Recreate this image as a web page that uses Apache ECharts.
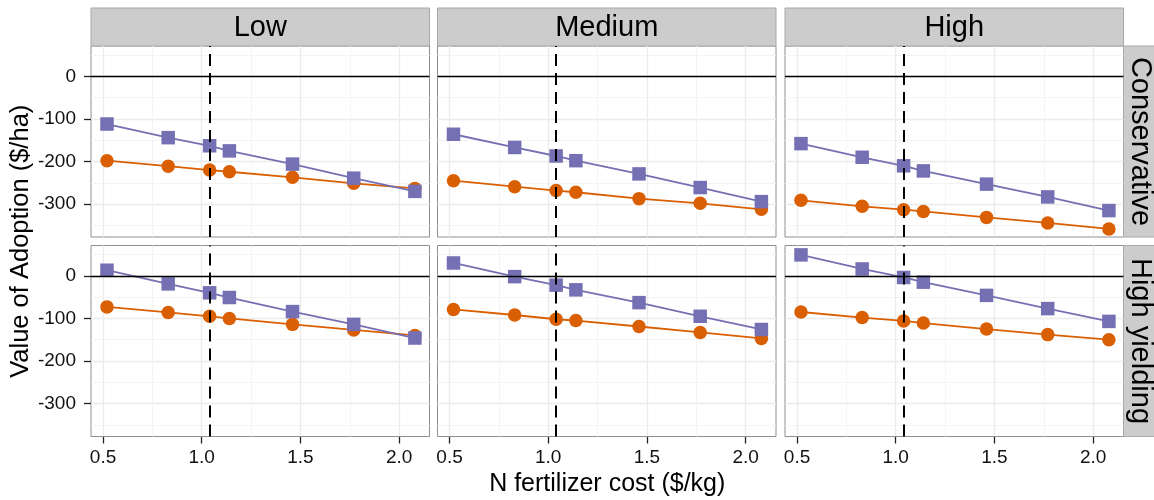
<!DOCTYPE html>
<html>
<head>
<meta charset="utf-8">
<script src="https://cdn.jsdelivr.net/npm/echarts@6/dist/echarts.min.js"></script>
<style>
html,body{margin:0;padding:0;background:#fff;}
#chart{width:1154px;height:500px;}
</style>
</head>
<body>
<div id="chart"></div>
<script>
// ---- data ----
const xValues = [0.52, 0.83, 1.04, 1.14, 1.46, 1.77, 2.08];
const colLabels = ['Low', 'Medium', 'High'];
const rowLabels = ['Conservative', 'High yielding'];
const xTicks = [0.5, 1.0, 1.5, 2.0];
const xMinorGrid = [0.75, 1.25, 1.75];
const yTicks = [-300, -200, -100, 0];
const yMinorGrid = [50, -50, -150, -250, -350];
const refX = 1.04;
const refY = 0;

// purple squares, per panel (row-major: Conservative Low/Medium/High, High yielding Low/Medium/High)
const purpleConsLow  = [-112, -144, -163, -175, -206, -239, -270];
const purpleConsMed  = [-136, -167, -187, -198, -229, -261, -294];
const purpleConsHigh = [-158, -190, -210, -222, -253, -283, -315];
const purpleHYLow    = [13, -19, -40, -51, -84, -114, -146];
const purpleHYMed    = [30, -2, -22, -33, -63, -95, -126];
const purpleHYHigh   = [49, 16, -4, -15, -46, -77, -107];
// orange circles
const orangeConsLow  = [-198, -211, -220, -224, -237, -251, -263];
const orangeConsMed  = [-245, -259, -268, -272, -287, -298, -312];
const orangeConsHigh = [-291, -305, -313, -317, -331, -344, -358];
const orangeHYLow    = [-73, -86, -95, -100, -114, -127, -140];
const orangeHYMed    = [-79, -92, -102, -105, -119, -133, -147];
const orangeHYHigh   = [-85, -98, -106, -111, -125, -138, -150];

const purpleSets = [purpleConsLow, purpleConsMed, purpleConsHigh, purpleHYLow, purpleHYMed, purpleHYHigh];
const orangeSets = [orangeConsLow, orangeConsMed, orangeConsHigh, orangeHYLow, orangeHYMed, orangeHYHigh];

// ---- layout ----
const FONT = 'Liberation Sans, Arial, Helvetica, sans-serif';
const colLeft = [91, 437.5, 785];
const panelW = 338.5;
const rowTop = [46, 245.5];
const panelH = 191;
const stripTop = 8;
const stripH = 38;
const stripRightX = 1123.5;
const xMin = 0.439, xMax = 2.154;
const yMin = -377, yMax = 71;

const PURPLE = '#7570B3';
const ORANGE = '#D95F02';

const grids = [], xAxes = [], yAxes = [], series = [], graphics = [];

for (let r = 0; r < 2; r++) {
  for (let c = 0; c < 3; c++) {
    const i = r * 3 + c;
    grids.push({
      left: colLeft[c], top: rowTop[r], width: panelW, height: panelH,
      show: true, backgroundColor: '#fff', borderColor: '#8f8f8f', borderWidth: 1,
      containLabel: false
    });
    const bottomRow = r === 1;
    const leftCol = c === 0;
    xAxes.push({
      type: 'value', gridIndex: i, min: xMin, max: xMax,
      axisLine: { show: false, onZero: false },
      axisTick: { show: bottomRow, length: 7, customValues: xTicks,
                  lineStyle: { color: '#222', width: 1.3 } },
      axisLabel: { show: bottomRow, customValues: xTicks, margin: 12,
                   formatter: v => v.toFixed(1),
                   color: '#111', fontSize: 19, fontFamily: FONT },
      splitLine: { show: false }
    });
    yAxes.push({
      type: 'value', gridIndex: i, min: yMin, max: yMax,
      axisLine: { show: false, onZero: false },
      axisTick: { show: leftCol, length: 7, customValues: yTicks,
                  lineStyle: { color: '#222', width: 1.3 } },
      axisLabel: { show: leftCol, customValues: yTicks, margin: 15,
                   color: '#111', fontSize: 19, fontFamily: FONT },
      splitLine: { show: false }
    });

    // grid lines (behind everything)
    const gl = [];
    yTicks.forEach(v => gl.push({ yAxis: v, lineStyle: { color: '#ebebeb', width: 1.3, type: 'solid' } }));
    yMinorGrid.forEach(v => gl.push({ yAxis: v, lineStyle: { color: '#f3f3f3', width: 0.9, type: 'solid' } }));
    xTicks.forEach(v => gl.push({ xAxis: v, lineStyle: { color: '#ebebeb', width: 1.3, type: 'solid' } }));
    xMinorGrid.forEach(v => gl.push({ xAxis: v, lineStyle: { color: '#f3f3f3', width: 0.9, type: 'solid' } }));
    series.push({
      type: 'line', xAxisIndex: i, yAxisIndex: i, data: [], silent: true, z: 1,
      markLine: { z: 1, silent: true, symbol: 'none', animation: false, label: { show: false },
                  emphasis: { disabled: true }, data: gl }
    });

    series.push({
      name: 'Orange', type: 'line', xAxisIndex: i, yAxisIndex: i, z: 3,
      data: xValues.map((x, k) => [x, orangeSets[i][k]]),
      symbol: 'circle', symbolSize: 13.5, showSymbol: true,
      lineStyle: { color: ORANGE, width: 1.8 },
      itemStyle: { color: ORANGE, borderWidth: 0 },
      emphasis: { disabled: true }
    });
    series.push({
      name: 'Purple', type: 'line', xAxisIndex: i, yAxisIndex: i, z: 4,
      data: xValues.map((x, k) => [x, purpleSets[i][k]]),
      symbol: 'rect', symbolSize: 13.5, showSymbol: true,
      lineStyle: { color: PURPLE, width: 1.8 },
      itemStyle: { color: PURPLE, borderWidth: 0 },
      emphasis: { disabled: true }
    });

    // reference lines on top
    series.push({
      type: 'line', xAxisIndex: i, yAxisIndex: i, data: [], silent: true, z: 10,
      markLine: { z: 10, silent: true, symbol: 'none', animation: false, label: { show: false },
                  emphasis: { disabled: true },
                  data: [
                    { yAxis: refY, lineStyle: { color: '#000', width: 1.4, type: 'solid' } },
                    { xAxis: refX, lineStyle: { color: '#000', width: 2, type: [12, 7] } }
                  ] }
    });
  }
}

// top strips
colLabels.forEach((lab, c) => {
  graphics.push({
    type: 'rect', shape: { x: colLeft[c], y: stripTop, width: panelW, height: stripH },
    style: { fill: '#cccccc', stroke: '#a8a8a8', lineWidth: 1 }, silent: true
  });
  graphics.push({
    type: 'text', x: colLeft[c] + panelW / 2, y: stripTop + stripH / 2 + 1,
    style: { text: lab, fill: '#000', font: '29px ' + FONT, align: 'center', verticalAlign: 'middle' },
    silent: true
  });
});
// right strips
rowLabels.forEach((lab, r) => {
  graphics.push({
    type: 'rect', shape: { x: stripRightX, y: rowTop[r], width: 32, height: panelH },
    style: { fill: '#cccccc', stroke: '#a8a8a8', lineWidth: 1 }, silent: true
  });
  graphics.push({
    type: 'text', x: stripRightX + 16, y: rowTop[r] + panelH / 2, rotation: -Math.PI / 2,
    style: { text: lab, fill: '#000', font: '29px ' + FONT, align: 'center', verticalAlign: 'middle' },
    silent: true
  });
});
// axis titles
graphics.push({
  type: 'text', x: 21, y: (rowTop[0] + rowTop[1] + panelH) / 2, rotation: Math.PI / 2,
  style: { text: 'Value of Adoption ($/ha)', fill: '#000', font: '25.5px ' + FONT, align: 'center', verticalAlign: 'middle' },
  silent: true
});
graphics.push({
  type: 'text', x: (colLeft[0] + colLeft[2] + panelW) / 2, y: 484,
  style: { text: 'N fertilizer cost ($/kg)', fill: '#000', font: '25px ' + FONT, align: 'center', verticalAlign: 'middle' },
  silent: true
});

const chart = echarts.init(document.getElementById('chart'), null, { renderer: 'canvas' });
chart.setOption({
  animation: false,
  backgroundColor: '#fff',
  grid: grids,
  xAxis: xAxes,
  yAxis: yAxes,
  series: series,
  graphic: graphics
});
</script>
</body>
</html>
